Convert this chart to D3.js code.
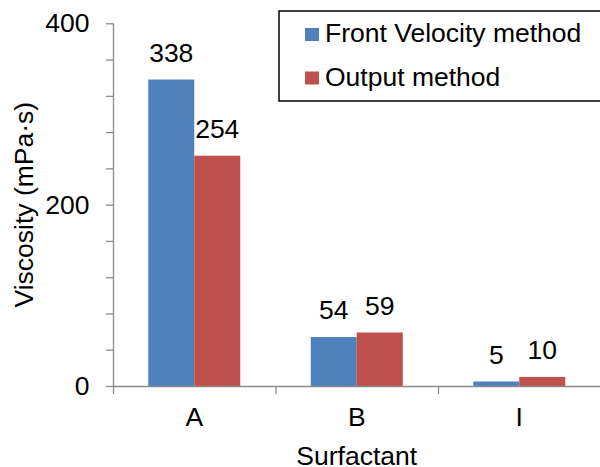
<!DOCTYPE html>
<html>
<head>
<meta charset="utf-8">
<script src="https://cdn.jsdelivr.net/npm/d3@7"></script>
<style>
  html, body { margin: 0; padding: 0; background: #fff; }
  svg { display: block; font-family: "Liberation Sans", Arial, sans-serif; }
</style>
</head>
<body>
<svg id="chart" width="600" height="467"></svg>
<script>
// Viscosity measured by two methods for each surfactant
const categories = ["A", "B", "I"];
const seriesNames = ["Front Velocity method", "Output method"];
const frontVelocity = [338, 54, 5];
const outputMethod = [254, 59, 10];
const yTicks = [0, 40, 80, 120, 160, 200, 240, 280, 320, 360, 400];
const yLabels = [0, 200, 400];
const colors = ["#4F81BD", "#C0504D"];

const seriesValues = [frontVelocity, outputMethod];
const rows = categories.map((c, i) => ({ cat: c, values: seriesValues.map(s => s[i]) }));

const svg = d3.select("#chart");
const fontSize = 26.5;
const axisColor = "#8a8a8a";

const plot = { left: 113, right: 600.5, top: 23.3, bottom: 386 };

const x = d3.scaleBand().domain(categories).range([plot.left, plot.right]).paddingInner(0).paddingOuter(0);
const groupW = 92;
const xs = d3.scaleBand().domain(seriesNames)
  .range([(x.bandwidth() - groupW) / 2, (x.bandwidth() + groupW) / 2]);
const y = d3.scaleLinear().domain([0, 400]).range([plot.bottom, plot.top]);

// Bars
const groups = svg.append("g").selectAll("g").data(rows).join("g")
  .attr("transform", d => `translate(${x(d.cat)},0)`);

groups.selectAll("rect").data(d => d.values.map((v, k) => ({ v, k })))
  .join("rect")
  .attr("x", d => xs(seriesNames[d.k]))
  .attr("y", d => y(d.v))
  .attr("width", xs.bandwidth())
  .attr("height", d => y(0) - y(d.v))
  .attr("fill", d => colors[d.k]);

// Value labels
groups.selectAll("text").data(d => d.values.map((v, k) => ({ v, k })))
  .join("text")
  .attr("x", d => xs(seriesNames[d.k]) + xs.bandwidth() / 2)
  .attr("y", d => y(d.v) - 17.6)
  .attr("text-anchor", "middle")
  .attr("font-size", fontSize)
  .attr("fill", "#000")
  .text(d => d.v);

// Y axis
const yAxis = svg.append("g")
  .attr("transform", `translate(${plot.left},0)`)
  .call(d3.axisLeft(y).tickValues(yTicks).tickSize(7).tickPadding(16.5)
    .tickFormat(d => yLabels.includes(d) ? d : ""));
yAxis.select(".domain").attr("stroke", axisColor).attr("stroke-width", 1.3)
  .attr("d", `M0.5,${plot.top}V${plot.bottom}`);
yAxis.selectAll(".tick line").attr("stroke", axisColor).attr("stroke-width", 1.3);
yAxis.selectAll(".tick text").attr("font-size", fontSize).attr("fill", "#000")
  .attr("font-family", "Liberation Sans, Arial, sans-serif");

// X axis
const xAxis = svg.append("g")
  .attr("transform", `translate(0,${plot.bottom})`)
  .call(d3.axisBottom(x).tickSize(0).tickPadding(21));
xAxis.select(".domain").attr("stroke", axisColor).attr("stroke-width", 1.3)
  .attr("d", `M${plot.left},0.5H${plot.right}`);
xAxis.selectAll(".tick text").attr("font-size", fontSize).attr("fill", "#000")
  .attr("font-family", "Liberation Sans, Arial, sans-serif");

// Category boundary ticks
const bounds = categories.map(c => x(c)).concat([x(categories[categories.length - 1]) + x.bandwidth()]);
xAxis.selectAll("line.bound").data(bounds).join("line")
  .attr("class", "bound")
  .attr("x1", d => d + 0.5).attr("x2", d => d + 0.5)
  .attr("y1", 0).attr("y2", 8)
  .attr("stroke", axisColor).attr("stroke-width", 1.3);

// Axis titles
svg.append("text")
  .attr("x", (plot.left + plot.right) / 2)
  .attr("y", 465)
  .attr("text-anchor", "middle")
  .attr("font-size", fontSize)
  .text("Surfactant");

svg.append("text")
  .attr("transform", `translate(33,${(plot.top + plot.bottom) / 2}) rotate(-90)`)
  .attr("text-anchor", "middle")
  .attr("font-size", fontSize)
  .text("Viscosity (mPa·s)");

// Legend
const legend = svg.append("g");
legend.append("rect")
  .attr("x", 279).attr("y", 11).attr("width", 340).attr("height", 90)
  .attr("fill", "#fff").attr("stroke", "#000").attr("stroke-width", 1.5);
const items = legend.selectAll("g.item").data(seriesNames).join("g")
  .attr("class", "item")
  .attr("transform", (d, i) => `translate(305,${28 + i * 43.5})`);
items.append("rect").attr("width", 14).attr("height", 13)
  .attr("fill", (d, i) => colors[i]);
items.append("text").attr("x", 20).attr("y", 14)
  .attr("font-size", fontSize).text(d => d);
</script>
</body>
</html>
